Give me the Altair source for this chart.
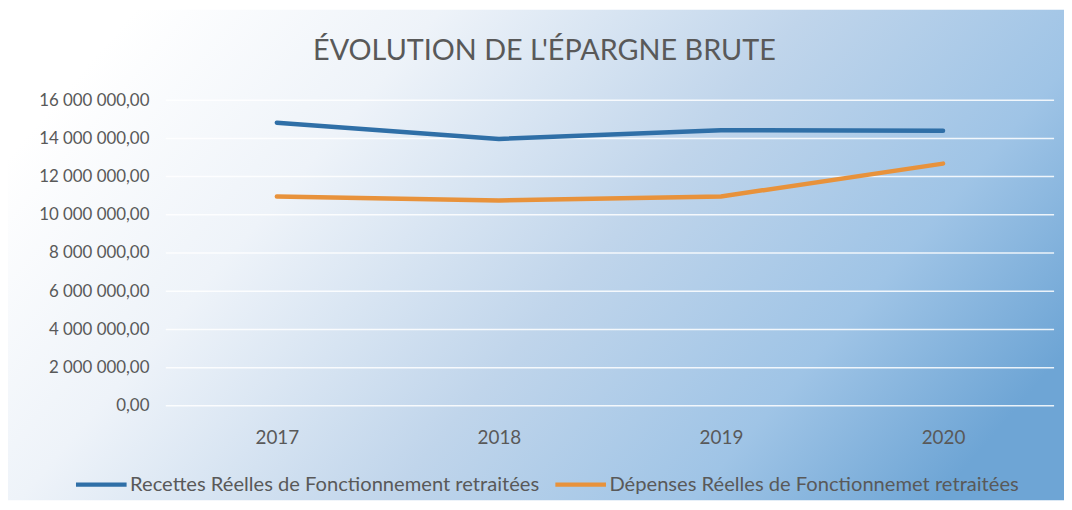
import altair as alt
import pandas as pd

years = ["2017", "2018", "2019", "2020"]
recettes = [14820000, 13970000, 14430000, 14400000]
depenses = [10960000, 10750000, 10960000, 12680000]
series_names = ["Recettes Réelles de Fonctionnement retraitées",
                "Dépenses Réelles de Fonctionnemet retraitées"]
series_colors = ["#2f6fa7", "#e8923b"]
y_ticks = [0, 2000000, 4000000, 6000000, 8000000, 10000000, 12000000, 14000000, 16000000]

rows = []
for i, yr in enumerate(years):
    rows.append({"annee": yr, "serie": series_names[0], "valeur": recettes[i]})
    rows.append({"annee": yr, "serie": series_names[1], "valeur": depenses[i]})
df = pd.DataFrame(rows)
grid_df = pd.DataFrame({"v": y_ticks})

W, H = 895, 308
PL, PT, PR, PB = 159, 91, 10, 95
FONT = "Lato"
TXT = "#595959"

grad = alt.LinearGradient(
    gradient="linear",
    x1=0, y1=0.3, x2=1, y2=0.7,
    stops=[
        alt.GradientStop(offset=0.0, color="#ffffff"),
        alt.GradientStop(offset=0.25, color="#eef3f9"),
        alt.GradientStop(offset=0.55, color="#c0d5eb"),
        alt.GradientStop(offset=0.8, color="#9fc4e6"),
        alt.GradientStop(offset=1.0, color="#6ea5d5"),
    ],
)

bg = alt.Chart(pd.DataFrame({"a": [0]})).mark_rect(fill=grad, clip=False).encode(
    x=alt.value(-PL), x2=alt.value(W + PR), y=alt.value(-PT), y2=alt.value(H + PB)
)

yscale = alt.Scale(domain=[0, 16000000], nice=False)
yaxis = alt.Axis(values=y_ticks, format=",.2f", grid=False, domain=False, ticks=False,
                 tickSize=0, labelPadding=17, labelFontSize=17, labelColor=TXT,
                 labelFont=FONT, zindex=1)

grid = alt.Chart(grid_df).mark_rule(color="#ffffff", strokeWidth=1.5, opacity=0.85).encode(
    y=alt.Y("v:Q", scale=yscale, axis=yaxis, title=None),
    x=alt.value(0), x2=alt.value(W),
)

lines = alt.Chart(df).mark_line(strokeWidth=4.5, strokeCap="round").encode(
    x=alt.X("annee:N", sort=years, title=None,
            axis=alt.Axis(labelAngle=0, grid=False, domain=False, ticks=False, tickSize=0,
                          labelPadding=23, labelFontSize=19, labelColor=TXT, labelFont=FONT,
                          zindex=1)),
    y=alt.Y("valeur:Q", scale=yscale, title=None, axis=yaxis),
    color=alt.Color("serie:N", scale=alt.Scale(domain=series_names, range=series_colors),
                    legend=alt.Legend(title=None, orient="none", direction="horizontal",
                                      legendX=-93, legendY=359, symbolType="stroke",
                                      symbolSize=2600, symbolStrokeWidth=4.5,
                                      labelFontSize=20.3, labelColor=TXT, labelFont=FONT,
                                      labelLimit=0, labelOffset=1, columnPadding=6,
                                      zindex=1)),
    detail="serie:N",
)

chart = alt.layer(bg, grid, lines).properties(
    width=W, height=H,
    autosize=alt.AutoSizeParams(type="none"),
    padding={"left": PL, "top": PT, "right": PR, "bottom": PB},
    title=alt.TitleParams("ÉVOLUTION DE L'ÉPARGNE BRUTE", font=FONT, fontSize=29,
                          fontWeight="normal", color=TXT, anchor="middle", frame="group",
                          baseline="alphabetic", offset=0, dy=80, dx=-66, zindex=1),
).configure(
    locale={"number": {"decimal": ",", "thousands": " ", "grouping": [3], "currency": ["", " €"]}}
).configure_view(stroke=None)

chart.save("out.html", embed_options={"renderer": "svg", "actions": False})
